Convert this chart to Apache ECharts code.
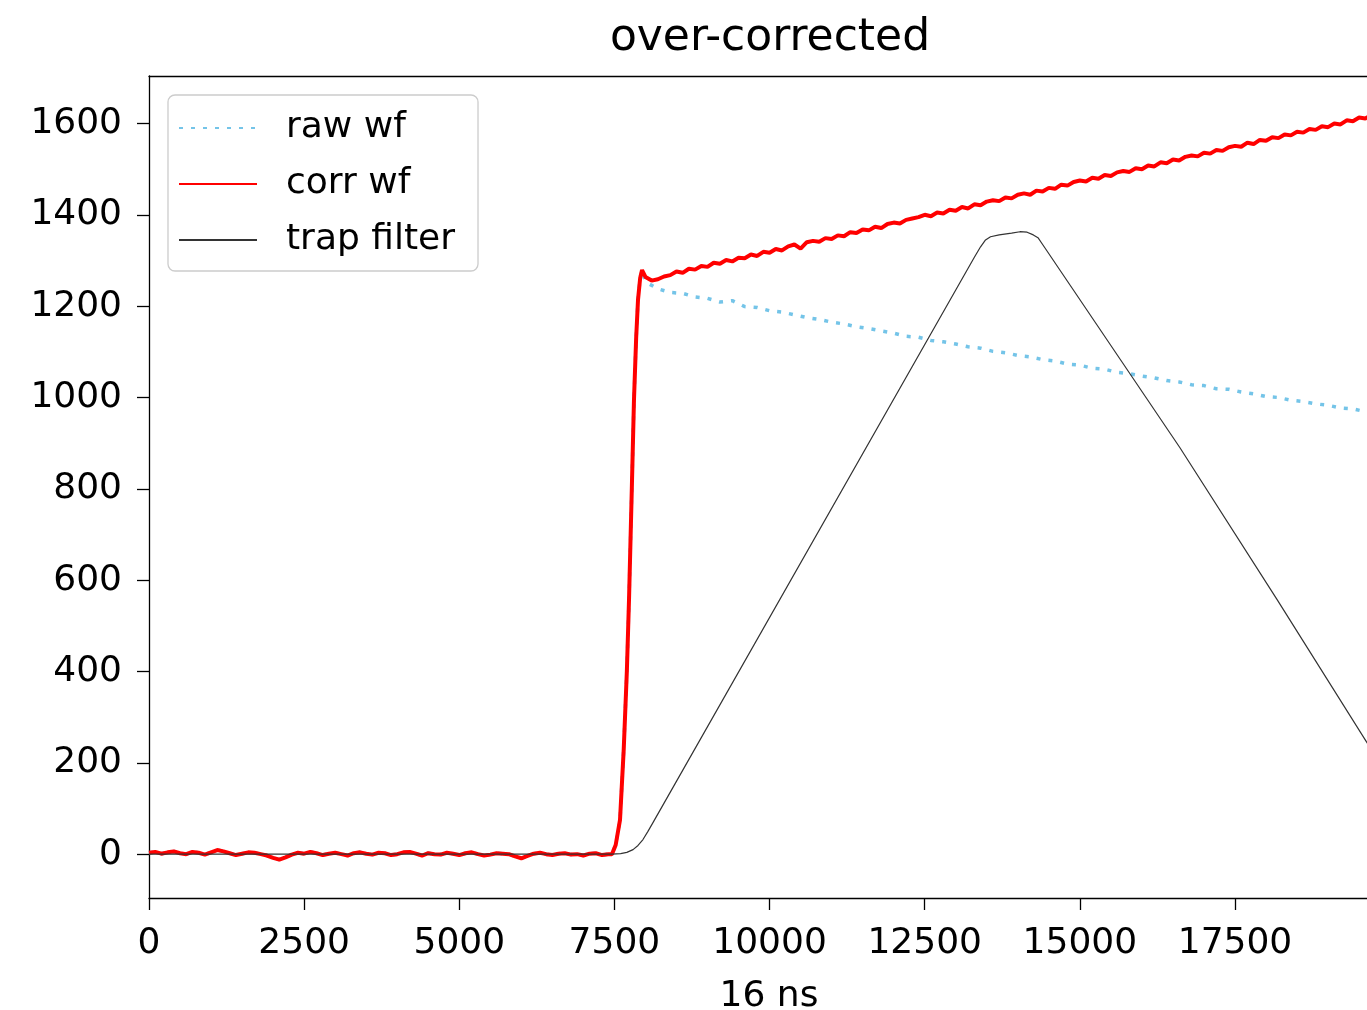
<!DOCTYPE html>
<html>
<head>
<meta charset="utf-8">
<title>over-corrected</title>
<script src="https://cdn.jsdelivr.net/npm/echarts@6/dist/echarts.min.js"></script>
<style>
  html, body { margin: 0; padding: 0; background: #ffffff; }
  #chart { width: 1367px; height: 1010px; }
</style>
</head>
<body>
<div id="chart"></div>
<script>
// Pre-trigger baseline (shared by raw and corrected waveform), sampled every 100 units from 0
const baseStep = 100;
const baseY = [3, 5, 1, 4, 6, 2, 0, 5, 3, -1,
               4, 9, 6, 2, -2, 1, 4, 3, 0, -3,
               -8, -12, -7, -1, 3, 1, 5, 2, -2, 1,
               3, 0, -3, 2, 4, 1, -1, 3, 2, -2,
               0, 4, 5, 1, -3, 2, 0, -1, 3, 1,
               -2, 2, 4, 0, -3, -1, 2, 1, 0, -5,
               -9, -4, 1, 3, 0, -2, 1, 2, -1, 0,
               -3, 1, 2, -2, 0];

// Leading edge of the pulse (shared)
const riseX = [7460, 7520, 7590, 7650, 7700, 7735, 7780, 7815, 7850, 7880, 7915, 7945];
const riseY = [0, 20, 75, 230, 400, 557, 800, 995, 1130, 1214, 1262, 1279];

// Raw waveform tail: exponential decay, every 200 units from 8000
const rawTailStart = 8000, rawTailStep = 200;
const rawTailY = [1253, 1238, 1230, 1228, 1220, 1217, 1209, 1212, 1199, 1197,
                  1190, 1187, 1181, 1175, 1171, 1165, 1161, 1155, 1151, 1146,
                  1141, 1134, 1132, 1125, 1122, 1117, 1111, 1108, 1101, 1098,
                  1092, 1089, 1083, 1080, 1073, 1071, 1064, 1062, 1055, 1052,
                  1047, 1043, 1037, 1034, 1028, 1026, 1019, 1018, 1012, 1008,
                  1002, 1000, 994, 991, 986, 983, 977, 975, 969, 966,
                  961];

// Corrected waveform tail (over-corrected, keeps rising), every 100 units from 8000
const corrTailStart = 8000, corrTailStep = 100;
const corrTailY = [1264, 1256, 1259, 1265, 1268, 1276, 1273, 1282, 1280, 1288,
                   1286, 1295, 1293, 1301, 1298, 1306, 1305, 1313, 1310, 1319,
                   1317, 1325, 1322, 1331, 1335, 1326, 1340, 1343, 1341, 1349,
                   1347, 1355, 1353, 1362, 1360, 1368, 1366, 1374, 1371, 1380,
                   1383, 1381, 1389, 1392, 1395, 1400, 1397, 1405, 1403, 1411,
                   1409, 1417, 1414, 1423, 1421, 1429, 1432, 1430, 1438, 1436,
                   1444, 1447, 1444, 1453, 1451, 1459, 1457, 1466, 1464, 1472,
                   1475, 1473, 1481, 1479, 1487, 1485, 1493, 1496, 1494, 1502,
                   1500, 1508, 1506, 1515, 1513, 1521, 1519, 1527, 1530, 1528,
                   1536, 1534, 1542, 1540, 1548, 1551, 1549, 1558, 1555, 1564,
                   1562, 1570, 1568, 1576, 1574, 1582, 1580, 1588, 1586, 1594,
                   1592, 1600, 1598, 1607, 1605, 1613, 1611, 1619, 1617, 1625,
                   1623];

// Trapezoidal filter output
const trapX = [0, 7460, 7600, 7700, 7800, 7880, 7960, 8040, 8121, 13300, 13400, 13480,
               13560, 13700, 13900, 14035, 14150, 14250, 14325, 14400, 16613, 18176, 19627, 20000];
const trapY = [0, 0, 1, 4, 10, 19, 32, 50, 69, 1307, 1330, 1345,
               1352, 1356, 1360, 1363, 1362, 1356, 1350, 1335, 890, 558, 244, 163];

// Axis ranges and ticks
const xMin = 0, xMax = 19627;
const yMin = -96, yMax = 1704;
const xTicks = [0, 2500, 5000, 7500, 10000, 12500, 15000, 17500];
const yTicks = [0, 200, 400, 600, 800, 1000, 1200, 1400, 1600];

const seriesNames = ['raw wf', 'corr wf', 'trap filter'];

function baselinePairs() {
  return baseY.map((v, i) => [i * baseStep, v]);
}
function risePairs() {
  return riseX.map((x, i) => [x, riseY[i]]);
}
const rawData = baselinePairs().concat(risePairs(),
  rawTailY.map((v, i) => [rawTailStart + i * rawTailStep, v]));
const corrData = baselinePairs().concat(risePairs(),
  corrTailY.map((v, i) => [corrTailStart + i * corrTailStep, v]));
const trapData = trapX.map((x, i) => [x, trapY[i]]);

const FONT = 'DejaVu Sans';
const SPINE = { color: '#000', width: 1.3 };
const chart = echarts.init(document.getElementById('chart'), null, { renderer: 'canvas' });

chart.setOption({
  animation: false,
  backgroundColor: '#ffffff',
  title: {
    text: 'over-corrected',
    left: 765,
    top: 12,
    textAlign: 'center',
    textStyle: { fontFamily: FONT, fontSize: 44, fontWeight: 'normal', color: '#000' }
  },
  grid: { left: 149, top: 76, right: 0, bottom: 112, outerBoundsMode: 'none', containLabel: false },
  legend: {
    data: seriesNames,
    orient: 'vertical',
    left: 168, top: 95,
    padding: [13, 23, 11, 10],
    itemGap: 16,
    itemWidth: 78,
    itemHeight: 14,
    itemStyle: { opacity: 0 },
    backgroundColor: '#ffffff',
    borderColor: '#cccccc',
    borderWidth: 1.3,
    borderRadius: 7,
    textStyle: { fontFamily: FONT, fontSize: 36, color: '#000', lineHeight: 40, padding: [0, 0, 0, 24] }
  },
  xAxis: [
    {
      type: 'value',
      min: xMin, max: xMax,
      name: '16 ns',
      nameLocation: 'middle',
      nameGap: 81,
      nameTextStyle: { fontFamily: FONT, fontSize: 36, color: '#000', padding: [0, 0, 0, 22] },
      splitLine: { show: false },
      axisLine: { show: true, onZero: false, lineStyle: SPINE },
      axisTick: { show: true, length: 12, lineStyle: SPINE, customValues: xTicks },
      axisLabel: { fontFamily: FONT, fontSize: 36, color: '#000', margin: 28, customValues: xTicks,
                   formatter: v => String(v) }
    },
    {
      // top spine of the frame
      type: 'value', position: 'top',
      min: xMin, max: xMax,
      splitLine: { show: false },
      axisLine: { show: true, onZero: false, lineStyle: SPINE },
      axisTick: { show: false },
      axisLabel: { show: false }
    }
  ],
  yAxis: {
    type: 'value',
    min: yMin, max: yMax,
    splitLine: { show: false },
    axisLine: { show: true, onZero: false, lineStyle: SPINE },
    axisTick: { show: true, length: 12, lineStyle: SPINE, customValues: yTicks },
    axisLabel: { fontFamily: FONT, fontSize: 36, color: '#000', margin: 27, customValues: yTicks,
                 formatter: v => String(v) }
  },
  series: [
    {
      name: 'raw wf', type: 'line', data: rawData, symbol: 'none', clip: true,
      lineStyle: { color: '#74C4E8', width: 3.5, type: [4, 8], cap: 'butt' },
      itemStyle: { color: '#74C4E8' }
    },
    {
      name: 'corr wf', type: 'line', data: corrData, symbol: 'none', clip: true,
      lineStyle: { color: '#ff0000', width: 4 },
      itemStyle: { color: '#ff0000' }
    },
    {
      name: 'trap filter', type: 'line', data: trapData, symbol: 'none', clip: true,
      lineStyle: { color: '#333333', width: 1.2 },
      itemStyle: { color: '#333333' }
    }
  ]
});
</script>
</body>
</html>
